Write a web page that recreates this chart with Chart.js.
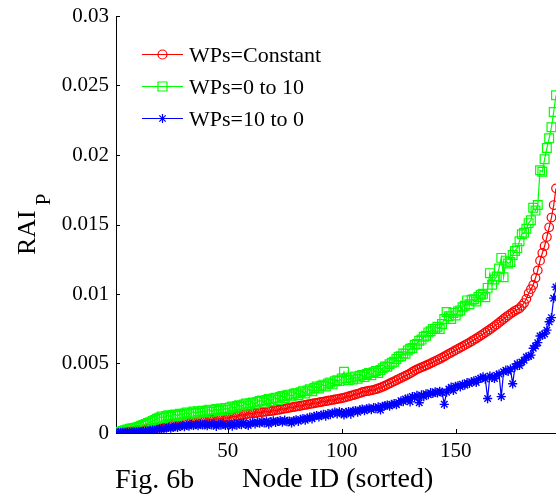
<!DOCTYPE html>
<html>
<head>
<meta charset="utf-8">
<script src="https://cdn.jsdelivr.net/npm/chart.js@4.4.1/dist/chart.umd.min.js"></script>
<style>
  html, body { margin: 0; padding: 0; background: #fff; }
  canvas { display: block; }
</style>
</head>
<body>
<canvas id="raiChart" width="556" height="497"></canvas>
<script>
// values, in units of 1e-4 (node index 1..194)
const SCALE = 1e-4;

const redVals = [
  0, 0.2, 0.4, 0.6, 0.8, 1.0, 1.2, 1.4, 1.7, 2.0,
  2.2, 2.4, 2.6, 2.8, 3.0, 3.2, 3.4, 3.6, 3.8, 4.0,
  4.3, 4.6, 4.9, 5.2, 5.5, 5.8, 6.1, 6.4, 6.7, 7.0,
  7.2, 7.4, 7.6, 7.8, 8.0, 8.2, 8.4, 8.6, 8.8, 9.0,
  9.2, 9.4, 9.6, 9.8, 10.0, 10.2, 10.4, 10.6, 10.8, 11.0,
  11.3, 11.6, 11.9, 12.2, 12.5, 12.8, 13.1, 13.4, 13.7, 14.0,
  14.2, 14.4, 14.6, 14.8, 15.0, 15.2, 15.4, 15.6, 15.8, 16.0,
  16.3, 16.6, 16.9, 17.2, 17.5, 17.8, 18.1, 18.4, 18.7, 19.0,
  19.3, 19.6, 19.9, 20.2, 20.5, 20.8, 21.1, 21.4, 21.7, 22.0,
  22.3, 22.6, 22.9, 23.2, 23.5, 23.8, 24.1, 24.4, 24.7, 25.0,
  25.4, 25.8, 26.3, 26.8, 27.2, 27.7, 28.2, 28.7, 29.3, 29.8,
  30.1, 30.4, 30.7, 31.0, 31.5, 32.0, 32.6, 33.3, 34.0, 34.8,
  35.6, 36.4, 37.2, 38.0, 38.8, 39.6, 40.4, 41.2, 42.0, 42.9,
  43.9, 44.9, 45.8, 46.5, 47.2, 47.9, 48.6, 49.3, 50.1, 50.9,
  51.7, 52.5, 53.3, 54.2, 55.1, 56.0, 56.9, 57.8, 58.7, 59.6,
  60.5, 61.4, 62.3, 63.2, 64.1, 65.0, 66.0, 67.0, 68.0, 69.0,
  70.1, 71.2, 72.3, 73.4, 74.5, 75.7, 76.9, 78.1, 79.4, 80.7,
  82.0, 83.3, 84.5, 85.7, 86.8, 87.9, 88.8, 89.8, 91.5, 93.5,
  96.5, 100.5, 103.5, 106.5, 111.5, 117.0, 124.0, 129.5, 134.5, 141.0,
  148.0, 155.0, 164.0, 176.0
];

const greenVals = [
  0, 0.5, 1.0, 1.5, 2.0, 2.5, 3.0, 3.2, 3.6, 4.0,
  4.5, 5.2, 5.8, 6.5, 7.2, 7.8, 8.6, 9.4, 10.2, 11.0,
  11.8, 10.8, 12.2, 12.8, 11.6, 13.0, 13.4, 12.2, 13.8, 13.0,
  14.0, 14.8, 13.4, 14.6, 15.4, 14.0, 15.6, 14.6, 16.0, 15.0,
  16.2, 16.8, 15.2, 16.6, 17.2, 15.8, 17.6, 16.4, 18.0, 16.8,
  18.4, 19.0, 17.6, 19.4, 20.0, 18.8, 20.6, 21.2, 19.8, 21.4,
  22.0, 20.6, 22.4, 23.0, 23.4, 21.8, 23.8, 24.4, 22.8, 24.8,
  25.4, 23.8, 26.0, 26.6, 25.0, 27.2, 27.6, 26.2, 28.2, 28.6,
  27.2, 29.4, 30.0, 28.4, 30.6, 31.4, 30.0, 32.4, 33.4, 32.0,
  34.0, 34.8, 33.4, 35.6, 36.4, 35.0, 37.2, 38.0, 37.4, 39.2,
  44.0, 39.4, 38.0, 40.0, 38.4, 40.6, 39.0, 41.2, 41.8, 40.2,
  42.4, 43.2, 41.6, 43.8, 44.6, 43.2, 45.4, 46.6, 47.8, 47.6,
  49.4, 50.6, 51.2, 53.2, 54.8, 55.2, 57.2, 57.0, 59.4, 60.6,
  61.2, 63.4, 64.0, 66.4, 67.2, 69.2, 70.0, 72.4, 73.2, 74.8,
  75.0, 76.4, 74.8, 78.4, 82.0, 87.0, 84.0, 82.0, 86.4, 84.6,
  87.4, 88.2, 90.4, 91.6, 95.4, 92.6, 95.8, 96.2, 94.6, 97.8,
  99.4, 100.2, 97.6, 104.4, 115.0, 106.6, 110.4, 112.6, 118.4, 126.0,
  112.0, 124.0, 122.0, 123.0, 128.0, 131.0, 133.0, 138.0, 143.0, 144.0,
  147.0, 151.0, 153.0, 162.0, 160.0, 164.0, 189.0, 188.0, 197.0, 205.0,
  212.0, 220.0, 231.0, 243.0
];

const blueVals = [
  0, 0.2, 0.3, 0.4, 0.5, 0.6, 0.7, 0.8, 0.9, 1.0,
  1.2, 1.0, 1.4, 1.6, 1.5, 1.9, 2.2, 2.0, 2.6, 3.0,
  3.2, 2.8, 3.6, 4.0, 3.4, 4.2, 4.6, 4.0, 5.0, 5.2,
  4.6, 5.6, 5.0, 6.0, 5.4, 6.2, 5.2, 6.4, 5.8, 6.0,
  5.2, 6.6, 5.8, 6.2, 4.8, 6.4, 5.6, 6.8, 5.4, 5.8,
  6.2, 5.0, 6.8, 5.6, 7.2, 6.0, 7.4, 6.4, 5.4, 7.0,
  7.6, 6.6, 8.0, 7.0, 8.2, 7.2, 8.6, 6.4, 8.0, 8.8,
  7.6, 8.4, 9.0, 7.8, 9.2, 8.2, 8.6, 7.2, 9.0, 9.4,
  8.4, 9.8, 10.4, 9.2, 10.8, 11.4, 10.2, 12.0, 12.6, 11.6,
  12.8, 13.4, 12.2, 14.0, 13.2, 14.4, 15.0, 13.8, 15.2, 14.6,
  13.0, 14.8, 15.4, 13.6, 15.8, 16.2, 15.0, 16.6, 17.2, 16.0,
  17.4, 18.0, 16.8, 18.2, 17.6, 18.8, 16.6, 19.2, 19.8, 20.0,
  19.4, 20.6, 21.2, 20.4, 22.0, 23.2, 22.6, 24.4, 25.0, 22.4,
  26.2, 25.6, 27.0, 21.8, 27.4, 26.2, 28.2, 27.6, 29.0, 28.4,
  29.6, 28.8, 30.0, 29.2, 20.6, 29.4, 31.6, 33.0, 30.6, 33.6,
  34.0, 33.2, 35.0, 34.4, 36.2, 35.6, 36.8, 37.6, 36.4, 38.6,
  39.4, 40.4, 38.8, 24.8, 41.0, 40.0, 39.2, 41.6, 42.4, 26.2,
  44.0, 45.2, 44.4, 46.0, 35.4, 47.6, 49.8, 48.6, 51.0, 52.4,
  54.6, 55.2, 56.0, 61.0, 62.6, 65.0, 69.8, 70.4, 71.2, 74.0,
  80.0, 83.0, 97.0, 105.0
];

const seriesNames = ['WPs=Constant', 'WPs=0 to 10', 'WPs=10 to 0'];
const yTicks = [0, 0.005, 0.01, 0.015, 0.02, 0.025, 0.03];
const yTickLabels = ['0', '0.005', '0.01', '0.015', '0.02', '0.025', '0.03'];
const xTicks = [50, 100, 150];

const SERIF = '"Liberation Serif", "DejaVu Serif", serif';

function toPoints(vals) {
  return vals.map((v, i) => ({ x: i + 1, y: v * SCALE }));
}

// MATLAB-style inward ticks, axis labels and the legend box
const decorPlugin = {
  id: 'decor',
  afterDraw(chart) {
    const ctx = chart.ctx;
    const xs = chart.scales.x, ys = chart.scales.y;
    const area = chart.chartArea;
    ctx.save();
    ctx.strokeStyle = '#000';
    ctx.lineWidth = 1;
    ctx.beginPath();
    yTicks.forEach(t => {
      const py = Math.round(ys.getPixelForValue(t)) + 0.5;
      ctx.moveTo(area.left, py);
      ctx.lineTo(area.left + 4, py);
    });
    xTicks.forEach(t => {
      const px = Math.round(xs.getPixelForValue(t)) + 0.5;
      ctx.moveTo(px, area.bottom);
      ctx.lineTo(px, area.bottom - 4);
    });
    ctx.stroke();

    // legend
    const rows = [54, 86, 118];
    chart.data.datasets.forEach((ds, i) => {
      const y = rows[i];
      ctx.strokeStyle = ds.borderColor;
      ctx.lineWidth = 1.2;
      ctx.beginPath();
      ctx.moveTo(142, y + 0.5);
      ctx.lineTo(183, y + 0.5);
      ctx.stroke();
      const cx = 162.5, cy = y + 0.5;
      ctx.beginPath();
      if (ds.pointStyle === 'circle') {
        ctx.arc(cx, cy, 4.5, 0, Math.PI * 2);
      } else if (ds.pointStyle === 'rect') {
        ctx.rect(cx - 4.5, cy - 4.5, 9, 9);
      } else {
        const r = 4.5, d = r * Math.SQRT1_2;
        ctx.moveTo(cx - r, cy); ctx.lineTo(cx + r, cy);
        ctx.moveTo(cx, cy - r); ctx.lineTo(cx, cy + r);
        ctx.moveTo(cx - d, cy - d); ctx.lineTo(cx + d, cy + d);
        ctx.moveTo(cx - d, cy + d); ctx.lineTo(cx + d, cy - d);
      }
      ctx.stroke();
      ctx.fillStyle = '#000';
      ctx.font = '22px ' + SERIF;
      ctx.textAlign = 'left';
      ctx.textBaseline = 'alphabetic';
      ctx.fillText(seriesNames[i], 189, y + 8);
    });

    // axis titles
    ctx.fillStyle = '#000';
    ctx.font = '28px ' + SERIF;
    ctx.textAlign = 'left';
    ctx.textBaseline = 'alphabetic';
    ctx.fillText('Node ID (sorted)', 242, 487);
    ctx.fillText('Fig. 6b', 115, 488);

    ctx.translate(35, 255);
    ctx.rotate(-Math.PI / 2);
    ctx.font = '26px ' + SERIF;
    ctx.fillText('RAI', 0, 0);
    const w = ctx.measureText('RAI').width;
    ctx.font = '21px ' + SERIF;
    ctx.fillText('P', w + 5, 15);
    ctx.restore();
  }
};

new Chart(document.getElementById('raiChart'), {
  type: 'line',
  data: {
    datasets: [
      {
        label: seriesNames[0],
        data: toPoints(redVals),
        borderColor: '#ff0000',
        backgroundColor: 'rgba(0,0,0,0)',
        borderWidth: 1.2,
        pointStyle: 'circle',
        pointRadius: 4.3,
        pointBorderWidth: 1.2,
        order: 2
      },
      {
        label: seriesNames[1],
        data: toPoints(greenVals),
        borderColor: '#00ff00',
        backgroundColor: 'rgba(0,0,0,0)',
        borderWidth: 1.2,
        pointStyle: 'rect',
        pointRadius: 6.2,
        pointBorderWidth: 1.2,
        order: 1
      },
      {
        label: seriesNames[2],
        data: toPoints(blueVals),
        borderColor: '#0000ff',
        backgroundColor: 'rgba(0,0,0,0)',
        borderWidth: 1.2,
        pointStyle: 'star',
        pointRadius: 4.6,
        pointBorderWidth: 1.4,
        order: 0
      }
    ]
  },
  options: {
    responsive: false,
    animation: false,
    devicePixelRatio: 1,
    layout: { autoPadding: false, padding: { top: 16, right: 0, left: 0, bottom: 0 } },
    plugins: {
      legend: { display: false },
      tooltip: { enabled: false }
    },
    scales: {
      x: {
        type: 'linear',
        min: 1,
        max: 194,
        afterBuildTicks: s => { s.ticks = xTicks.map(v => ({ value: v })); },
        afterFit: s => {
          s.height = 64;
          s.paddingLeft = 0;
          s.paddingRight = 0;
        },
        grid: { display: false, drawTicks: false },
        border: { display: true, color: '#000', width: 1 },
        ticks: {
          padding: 6,
          color: '#000',
          font: { family: SERIF, size: 21 },
          maxRotation: 0
        }
      },
      y: {
        min: 0,
        max: 0.03,
        afterBuildTicks: s => { s.ticks = yTicks.map(v => ({ value: v })); },
        afterFit: s => {
          s.width = 116;
          s.paddingTop = 0;
          s.paddingBottom = 0;
        },
        grid: { display: false, drawTicks: false },
        border: { display: true, color: '#000', width: 1 },
        ticks: {
          padding: 7,
          color: '#000',
          font: { family: SERIF, size: 21 },
          callback: (v) => {
            const k = yTicks.findIndex(t => Math.abs(t - v) < 1e-9);
            return k >= 0 ? yTickLabels[k] : '';
          }
        }
      }
    }
  },
  plugins: [decorPlugin]
});
</script>
</body>
</html>
